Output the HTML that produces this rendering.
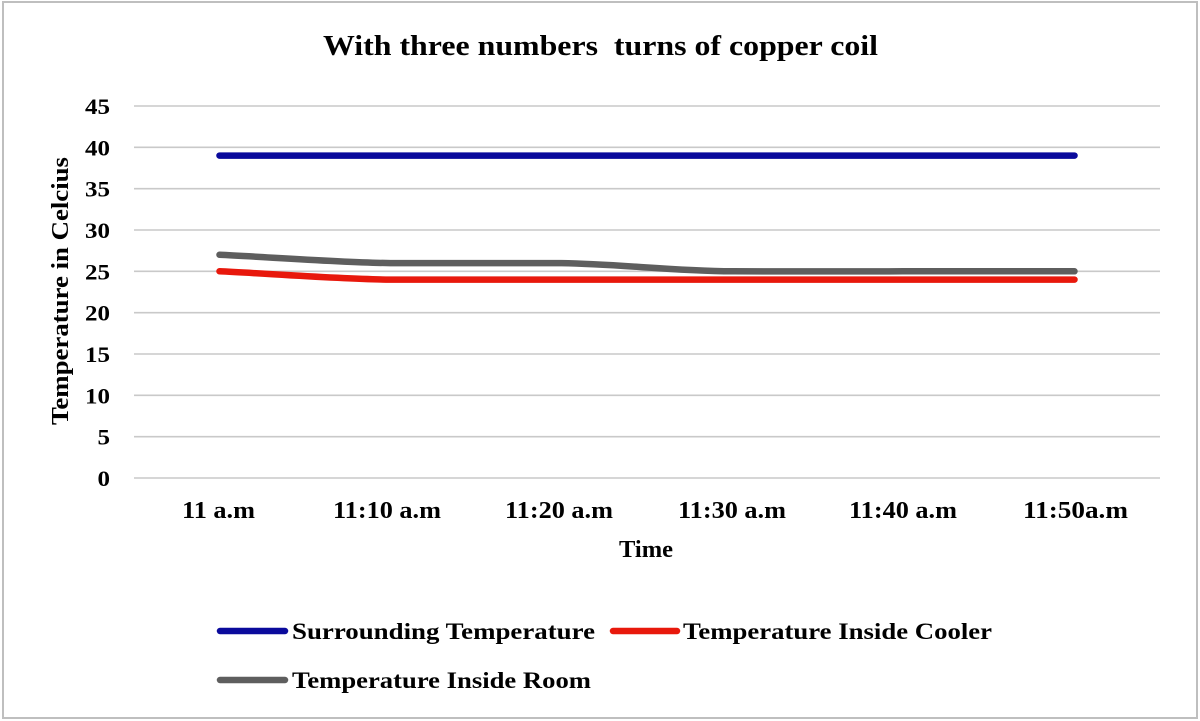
<!DOCTYPE html>
<html>
<head>
<meta charset="utf-8">
<style>
  html, body { margin: 0; padding: 0; background: #ffffff; }
  svg { display: block; }
  text { font-family: "Liberation Serif", "Times New Roman", serif; font-weight: bold; fill: #000; }
</style>
</head>
<body>
<svg width="1200" height="721" viewBox="0 0 1200 721" xmlns="http://www.w3.org/2000/svg">
  <rect x="0" y="0" width="1200" height="721" fill="#ffffff"/>
  <!-- chart frame -->
  <rect x="3" y="2" width="1194" height="716" fill="none" stroke="#bfbfbf" stroke-width="2"/>

  <!-- title -->
  <text x="323" y="55" font-size="28" textLength="555" lengthAdjust="spacingAndGlyphs" xml:space="preserve">With three numbers  turns of copper coil</text>

  <!-- gridlines -->
  <g stroke="#c9c9c9" stroke-width="1.6">
    <line x1="134" y1="106" x2="1160" y2="106"/>
    <line x1="134" y1="147.3" x2="1160" y2="147.3"/>
    <line x1="134" y1="188.7" x2="1160" y2="188.7"/>
    <line x1="134" y1="230" x2="1160" y2="230"/>
    <line x1="134" y1="271.3" x2="1160" y2="271.3"/>
    <line x1="134" y1="312.7" x2="1160" y2="312.7"/>
    <line x1="134" y1="354" x2="1160" y2="354"/>
    <line x1="134" y1="395.3" x2="1160" y2="395.3"/>
    <line x1="134" y1="436.7" x2="1160" y2="436.7"/>
    <line x1="134" y1="478" x2="1160" y2="478"/>
  </g>

  <!-- y tick labels -->
  <g font-size="22" text-anchor="end">
    <text x="110" y="114" textLength="25" lengthAdjust="spacingAndGlyphs">45</text>
    <text x="110" y="155.3" textLength="25" lengthAdjust="spacingAndGlyphs">40</text>
    <text x="110" y="196.7" textLength="25" lengthAdjust="spacingAndGlyphs">35</text>
    <text x="110" y="238" textLength="25" lengthAdjust="spacingAndGlyphs">30</text>
    <text x="110" y="279.3" textLength="25" lengthAdjust="spacingAndGlyphs">25</text>
    <text x="110" y="320.7" textLength="25" lengthAdjust="spacingAndGlyphs">20</text>
    <text x="110" y="362" textLength="25" lengthAdjust="spacingAndGlyphs">15</text>
    <text x="110" y="403.3" textLength="25" lengthAdjust="spacingAndGlyphs">10</text>
    <text x="110" y="444.7" textLength="12.5" lengthAdjust="spacingAndGlyphs">5</text>
    <text x="110" y="486" textLength="12.5" lengthAdjust="spacingAndGlyphs">0</text>
  </g>

  <!-- y axis title -->
  <text transform="translate(68,425) rotate(-90)" x="0" y="0" font-size="24" textLength="268" lengthAdjust="spacingAndGlyphs">Temperature in Celcius</text>

  <!-- x tick labels -->
  <g font-size="24">
    <text x="182" y="518" textLength="73" lengthAdjust="spacingAndGlyphs">11 a.m</text>
    <text x="333" y="518" textLength="108" lengthAdjust="spacingAndGlyphs">11:10 a.m</text>
    <text x="505" y="518" textLength="108" lengthAdjust="spacingAndGlyphs">11:20 a.m</text>
    <text x="678" y="518" textLength="108" lengthAdjust="spacingAndGlyphs">11:30 a.m</text>
    <text x="849" y="518" textLength="108" lengthAdjust="spacingAndGlyphs">11:40 a.m</text>
    <text x="1023" y="518" textLength="105" lengthAdjust="spacingAndGlyphs">11:50a.m</text>
  </g>

  <!-- x axis title -->
  <text x="619" y="557" font-size="24" textLength="54" lengthAdjust="spacingAndGlyphs">Time</text>

  <!-- series -->
  <g fill="none" stroke-width="6.5" stroke-linecap="round" stroke-linejoin="round">
    <!-- Surrounding temperature -->
    <path d="M219.5,155.6 L1074.5,155.6" stroke="#0a0a9c"/>
    <!-- Temperature inside room -->
    <path d="M219.5,254.8 C260,256.5 340,262.6 390.5,263.1 C440,263.4 510,262.8 561.5,263.1 C620,264 670,270.8 732.5,271.3 C790,271.6 850,271.3 903.5,271.3 L1074.5,271.3" stroke="#5e5e5e"/>
    <!-- Temperature inside cooler -->
    <path d="M219.5,271.3 C260,273 340,279.2 390.5,279.6 L1074.5,279.6" stroke="#e8180c"/>
  </g>

  <!-- legend -->
  <g stroke-width="6.5" stroke-linecap="round">
    <line x1="220" y1="631" x2="285" y2="631" stroke="#0a0a9c"/>
    <line x1="613" y1="631" x2="677" y2="631" stroke="#e8180c"/>
    <line x1="220" y1="680" x2="285" y2="680" stroke="#5e5e5e"/>
  </g>
  <g font-size="23">
    <text x="292" y="639" textLength="303" lengthAdjust="spacingAndGlyphs">Surrounding Temperature</text>
    <text x="683" y="639" textLength="309" lengthAdjust="spacingAndGlyphs">Temperature Inside Cooler</text>
    <text x="292" y="688" textLength="299" lengthAdjust="spacingAndGlyphs">Temperature Inside Room</text>
  </g>
</svg>
</body>
</html>
